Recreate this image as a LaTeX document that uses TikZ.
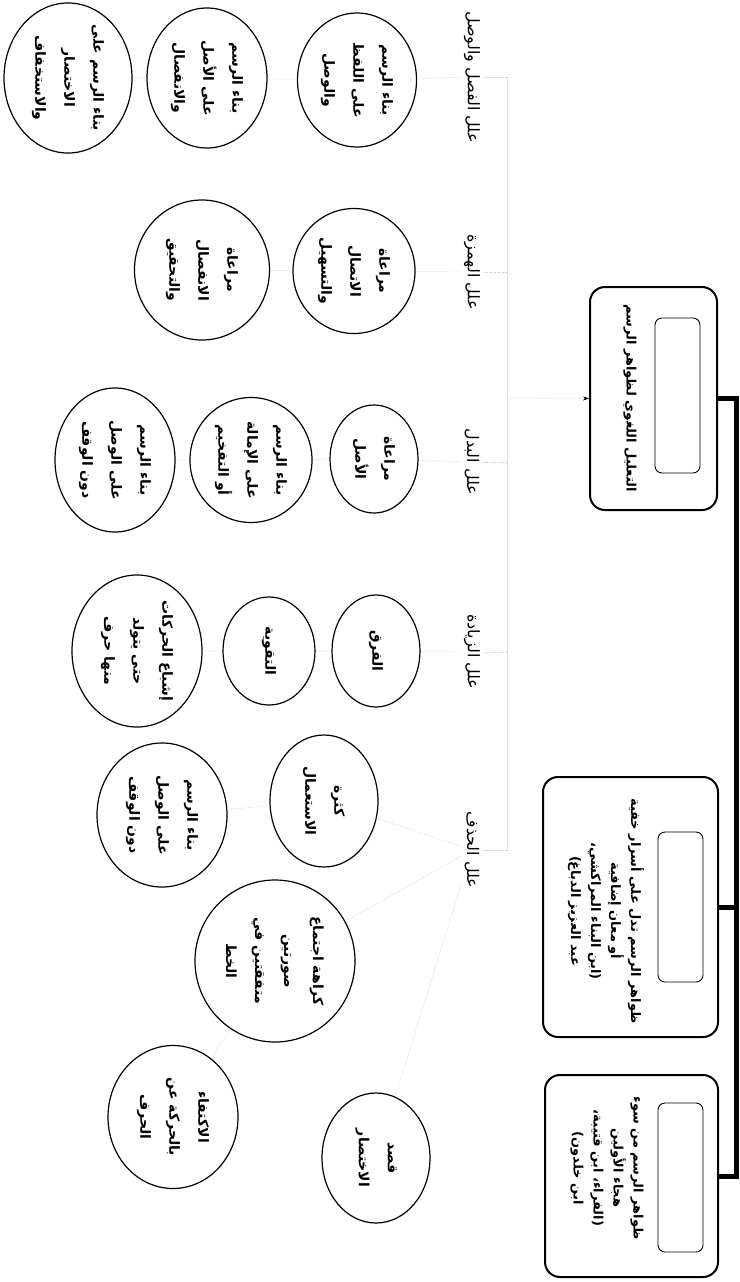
\documentclass[tikz,border=0pt]{standalone}
\usepackage{fontspec}
\usepackage{tikz}
\usetikzlibrary{shapes.geometric,arrows.meta}
\newfontfamily\arabicfont[Script=Arabic]{DejaVu Sans}
\TeXXeTstate=1
\newcommand{\ar}[1]{\beginR #1\endR}

\begin{document}
\begin{tikzpicture}[x=1pt,y=-1pt,
  reason/.style={ellipse,draw,line width=1.2pt,rotate=-90,inner sep=0pt,align=center,
    font=\arabicfont\bfseries\fontsize{14}{29}\selectfont},
  heading/.style={rotate=-90,font=\arabicfont\fontsize{16}{18}\selectfont},
  stagebox/.style={draw,line width=2pt,rounded corners=15pt,rotate=-90},
  blank/.style={draw,line width=0.9pt,rounded corners=7pt,rotate=-90},
  stagetext/.style={rotate=-90,align=center,font=\arabicfont\bfseries\fontsize{13}{20}\selectfont},
  faint/.style={black!18,line width=0.6pt,densely dotted},
  spine/.style={line width=5pt,line join=miter}]
\useasboundingbox (0,0) rectangle (739,1282);

% Stages (boxes)
\node[stagebox,minimum width=223pt,minimum height=127pt] (box1) at (653.5,398.5) {};
\node[blank,minimum width=155pt,minimum height=45pt] (field1) at (677.5,395.5) {};
\node[stagetext] (text1) at (630,398) {\ar{التعليل اللغوي لظواهر الرسم}};

\node[stagebox,minimum width=260pt,minimum height=175pt] (box2) at (630.5,907) {};
\node[blank,minimum width=150pt,minimum height=45pt] (field2) at (680.5,907) {};
\node[stagetext] (text2) at (606,911) {\ar{ظواهر الرسم تدل على أسرار خفية}\\\ar{أو معان إضافية}\\\ar{(ابن البناء المراكشي،}\\\ar{عبد العزيز الدباغ)}};

\node[stagebox,minimum width=202pt,minimum height=173pt] (box3) at (631.5,1176) {};
\node[blank,minimum width=149pt,minimum height=45pt] (field3) at (680.5,1177.5) {};
\node[stagetext] (text3) at (607,1168) {\ar{ظواهر الرسم من سوء}\\\ar{هجاء الأولين}\\\ar{(الفراء، ابن قتيبة،}\\\ar{ابن خلدون)}};

% Spine joining the boxes
\draw[spine] (box1.north) -- ++(18,0) |- (box3.north);
\draw[spine] (box2.north) -- ++(18,0);

% Headings
\node[heading] (h1) at (472,77) {\ar{علل الفصل والوصل}};
\node[heading] (h2) at (472,272) {\ar{علل الهمزة}};
\node[heading] (h3) at (472,462) {\ar{علل البدل}};
\node[heading] (h4) at (472,652) {\ar{علل الزيادة}};
\node[heading] (h5) at (472,850) {\ar{علل الحذف}};

% Causes
\node[reason,minimum width=134pt,minimum height=119pt] (fa1) at (357,80) {\ar{بناء الرسم}\\\ar{على اللفظ}\\\ar{والوصل}};
\node[reason,minimum width=140pt,minimum height=120pt] (fa2) at (207,78) {\ar{بناء الرسم}\\\ar{على الأصل}\\\ar{والانفصال}};
\node[reason,minimum width=150pt,minimum height=128pt] (fa3) at (68,78) {\ar{بناء الرسم على}\\\ar{الاختصار}\\\ar{والاستخفاف}};

\node[reason,minimum width=125pt,minimum height=122pt] (ha1) at (354,271) {\ar{مراعاة}\\\ar{الاتصال}\\\ar{والتسهيل}};
\node[reason,minimum width=140pt,minimum height=135pt] (ha2) at (202,270) {\ar{مراعاة}\\\ar{الانفصال}\\\ar{والتحقيق}};

\node[reason,minimum width=108pt,minimum height=88pt] (ba1) at (374,459) {\ar{مراعاة}\\\ar{الأصل}};
\node[reason,minimum width=125pt,minimum height=122pt] (ba2) at (251,460) {\ar{بناء الرسم}\\\ar{على الإمالة}\\\ar{أو التفخيم}};
\node[reason,minimum width=144pt,minimum height=120pt] (ba3) at (115,460) {\ar{بناء الرسم}\\\ar{على الوصل}\\\ar{دون الوقف}};

\node[reason,minimum width=112pt,minimum height=88pt] (za1) at (376,651) {\ar{الفرق}};
\node[reason,minimum width=108pt,minimum height=92pt] (za2) at (269,651) {\ar{التقوية}};
\node[reason,minimum width=152pt,minimum height=130pt] (za3) at (137,651) {\ar{إشباع الحركات}\\\ar{حتى يتولد}\\\ar{منها حرف}};

\node[reason,minimum width=132pt,minimum height=108pt] (hd1) at (324,801) {\ar{كثرة}\\\ar{الاستعمال}};
\node[reason,minimum width=144pt,minimum height=130pt] (hd2) at (162,815) {\ar{بناء الرسم}\\\ar{على الوصل}\\\ar{دون الوقف}};
\node[reason,minimum width=162pt,minimum height=160pt] (hd3) at (275,961) {\ar{كراهة اجتماع}\\\ar{صورتين}\\\ar{متفقتين في}\\\ar{الخط}};
\node[reason,minimum width=143pt,minimum height=130pt] (hd4) at (173,1117) {\ar{الاكتفاء}\\\ar{بالحركة عن}\\\ar{الحرف}};
\node[reason,minimum width=130pt,minimum height=108pt] (hd5) at (376,1158) {\ar{قصد}\\\ar{الاختصار}};

% Faint links (almost lost in the scan)
\coordinate (fork) at (507,398);
\draw[faint,-{Stealth[black,length=6pt,width=4pt]}] (fork) -- (box1.south);
\draw[faint] (fork|-h1) -- (fork|-h5);
\foreach \h in {h1,h2,h3,h4,h5}
  \draw[faint] (fork|-\h) -- (\h.north);
\draw[faint] (h1) -- (fa1) (fa1) -- (fa2) (fa2) -- (fa3);
\draw[faint] (h2) -- (ha1) (ha1) -- (ha2);
\draw[faint] (h3) -- (ba1) (ba1) -- (ba2) (ba2) -- (ba3);
\draw[faint] (h4) -- (za1) (za1) -- (za2) (za2) -- (za3);
\draw[faint] (h5) -- (hd1) (hd1) -- (hd2) (h5) -- (hd3) (hd3) -- (hd4) (h5) -- (hd5);
\end{tikzpicture}
\end{document}
